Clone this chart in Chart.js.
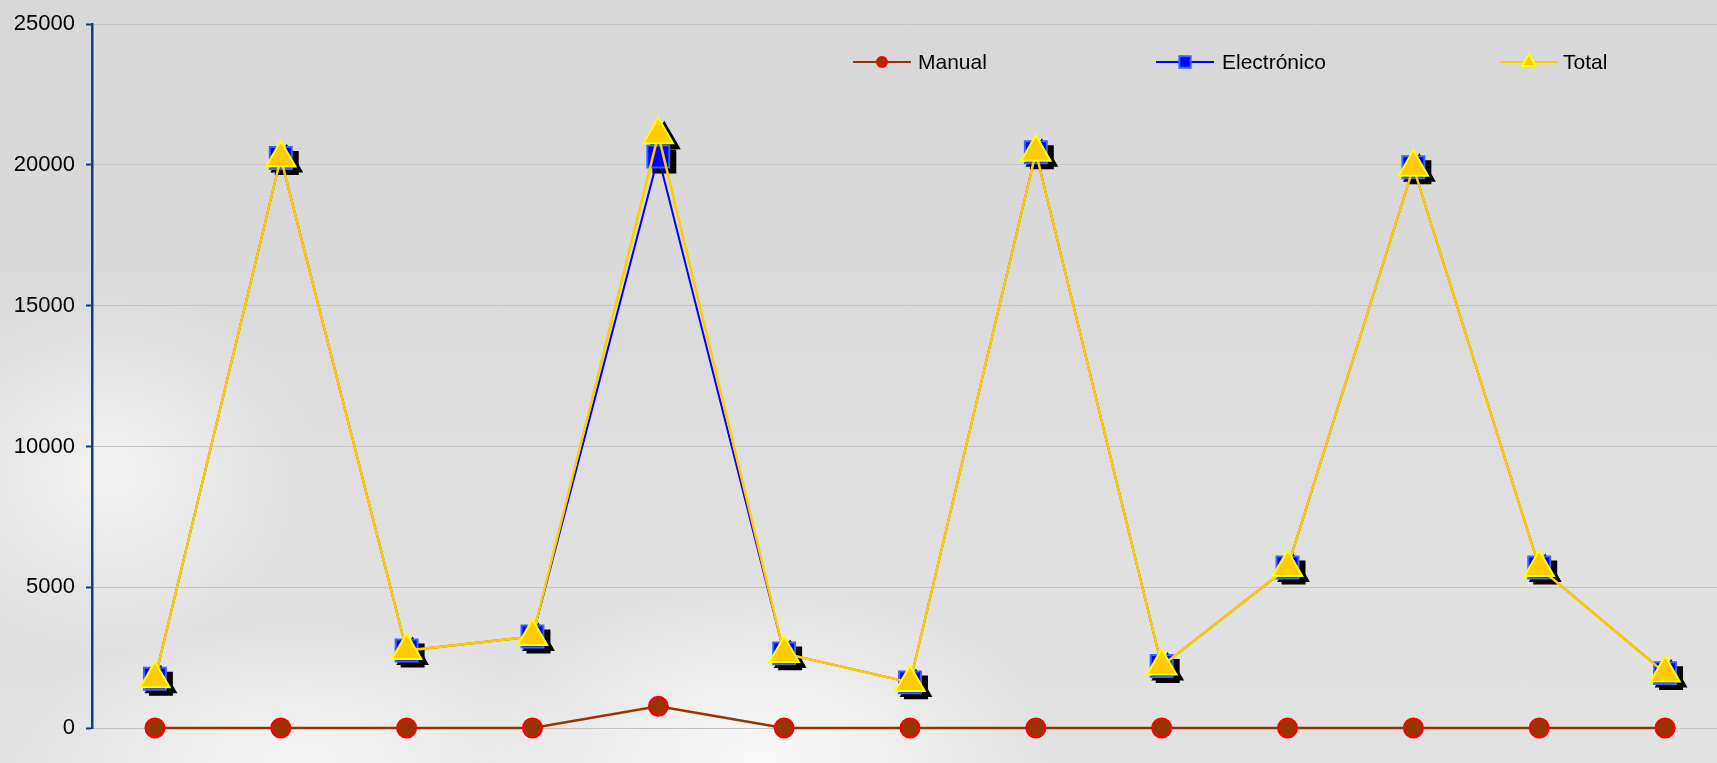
<!DOCTYPE html>
<html>
<head>
<meta charset="utf-8">
<script src="https://cdn.jsdelivr.net/npm/chart.js@4.4.1/dist/chart.umd.min.js"></script>
<style>
  html, body { margin: 0; padding: 0; }
  body {
    width: 1717px; height: 763px; overflow: hidden;
    background:
      radial-gradient(ellipse 420px 260px at 760px 760px, rgba(255,255,255,0.8), rgba(255,255,255,0) 70%),
      radial-gradient(ellipse 300px 260px at 110px 470px, rgba(255,255,255,0.6), rgba(255,255,255,0) 70%),
      radial-gradient(ellipse 420px 200px at 300px 760px, rgba(255,255,255,0.65), rgba(255,255,255,0) 70%),
      linear-gradient(to bottom, #d8d8d8 0%, #d9d9d9 30%, #dedede 60%, #e2e2e2 100%);
    font-family: Arial, "Liberation Sans", sans-serif;
  }
  canvas { display: block; }
</style>
</head>
<body>
<canvas id="chart" width="1728" height="763"></canvas>
<script>
/* Manual / Electrónico / Total line chart */

const categories = ["1", "2", "3", "4", "5", "6", "7", "8", "9", "10", "11", "12", "13"];
const manual = [0, 0, 0, 0, 770, 0, 0, 0, 0, 0, 0, 0, 0];
const electronico = [1750, 20250, 2750, 3250, 20300, 2650, 1620, 20450, 2200, 5700, 19920, 5700, 1950];
const total = [1750, 20250, 2750, 3250, 21070, 2650, 1620, 20450, 2200, 5700, 19920, 5700, 1950];
const yTicks = [0, 5000, 10000, 15000, 20000, 25000];

const legendSpots = [
  { x: 853, tx: 918 },
  { x: 1156, tx: 1222 },
  { x: 1500, tx: 1563 },
];

// black drop shadow behind square and triangle markers
const markerShadow = {
  id: "markerShadow",
  beforeDatasetsDraw(chart) {
    const ctx = chart.ctx;
    chart.data.datasets.forEach((ds, i) => {
      if (!ds.shadow) return;
      const meta = chart.getDatasetMeta(i);
      ctx.save();
      ctx.fillStyle = "#000";
      ctx.strokeStyle = "#000";
      ctx.lineWidth = 2;
      meta.data.forEach((pt) => {
        Chart.helpers.drawPoint(ctx, {
          pointStyle: ds.pointStyle,
          radius: ds.pointRadius,
          rotation: 0,
          borderWidth: 2,
        }, pt.x + 6, pt.y + 5);
      });
      ctx.restore();
    });
  },
};

const customLegend = {
  id: "customLegend",
  afterDraw(chart) {
    const ctx = chart.ctx;
    const y = 62;
    chart.data.datasets.forEach((ds, i) => {
      const spot = legendSpots[i];
      ctx.save();
      ctx.strokeStyle = ds.borderColor;
      ctx.lineWidth = 2;
      ctx.beginPath();
      ctx.moveTo(spot.x, y);
      ctx.lineTo(spot.x + 58, y);
      ctx.stroke();
      ctx.fillStyle = ds.pointBackgroundColor;
      ctx.strokeStyle = ds.pointBorderColor;
      Chart.helpers.drawPoint(ctx, {
        pointStyle: ds.pointStyle,
        radius: ds.legendRadius,
        rotation: 0,
        borderWidth: 2,
      }, spot.x + 29, y);
      ctx.fillStyle = "#000";
      ctx.font = "21px Arial, 'Liberation Sans', sans-serif";
      ctx.textBaseline = "middle";
      ctx.textAlign = "left";
      ctx.fillText(ds.label, spot.tx, y + 1);
      ctx.restore();
    });
  },
};

new Chart(document.getElementById("chart"), {
  type: "line",
  data: {
    labels: categories,
    datasets: [
      {
        label: "Manual",
        data: manual,
        borderColor: "#993300",
        borderWidth: 2.5,
        pointStyle: "circle",
        pointRadius: 9.5,
        legendRadius: 5,
        pointBackgroundColor: "#993300",
        pointBorderColor: "#ff0000",
        pointBorderWidth: 2,
        clip: false,
        order: 2,
      },
      {
        label: "Electrónico",
        data: electronico,
        borderColor: "#0000ff",
        borderWidth: 2,
        pointStyle: "rect",
        pointRadius: 15.5,
        legendRadius: 8,
        pointBackgroundColor: "#0000ff",
        pointBorderColor: "#3366ff",
        pointBorderWidth: 2,
        shadow: true,
        clip: false,
        order: 1,
      },
      {
        label: "Total",
        data: total,
        borderColor: "#ffcc00",
        borderWidth: 2.5,
        pointStyle: "triangle",
        pointRadius: 17,
        legendRadius: 8,
        pointBackgroundColor: "#ffcc00",
        pointBorderColor: "#ffff00",
        pointBorderWidth: 2,
        shadow: true,
        clip: false,
        order: 0,
      },
    ],
  },
  options: {
    responsive: false,
    animation: false,
    layout: { autoPadding: false, padding: { top: 23, bottom: 35, left: 0, right: 0 } },
    plugins: {
      legend: { display: false },
      tooltip: { enabled: false },
    },
    elements: { line: { tension: 0 } },
    scales: {
      x: {
        display: false,
        offset: true,
      },
      y: {
        min: 0,
        max: 25000,
        afterFit: (scale) => { scale.width = 92; },
        afterBuildTicks: (scale) => {
          scale.ticks = yTicks.map((v) => ({ value: v }));
        },
        ticks: {
          color: "#000",
          padding: 11,
          callback: (value) => String(value),
          font: { family: "Arial, 'Liberation Sans', sans-serif", size: 22 },
        },
        grid: {
          color: "#c4c4c4",
          lineWidth: 1,
          tickLength: 6,
          tickColor: "#0e3f7e",
          tickWidth: 2,
        },
        border: { color: "#0e3f7e", width: 2.5 },
      },
    },
  },
  plugins: [markerShadow, customLegend],
});
</script>
</body>
</html>
